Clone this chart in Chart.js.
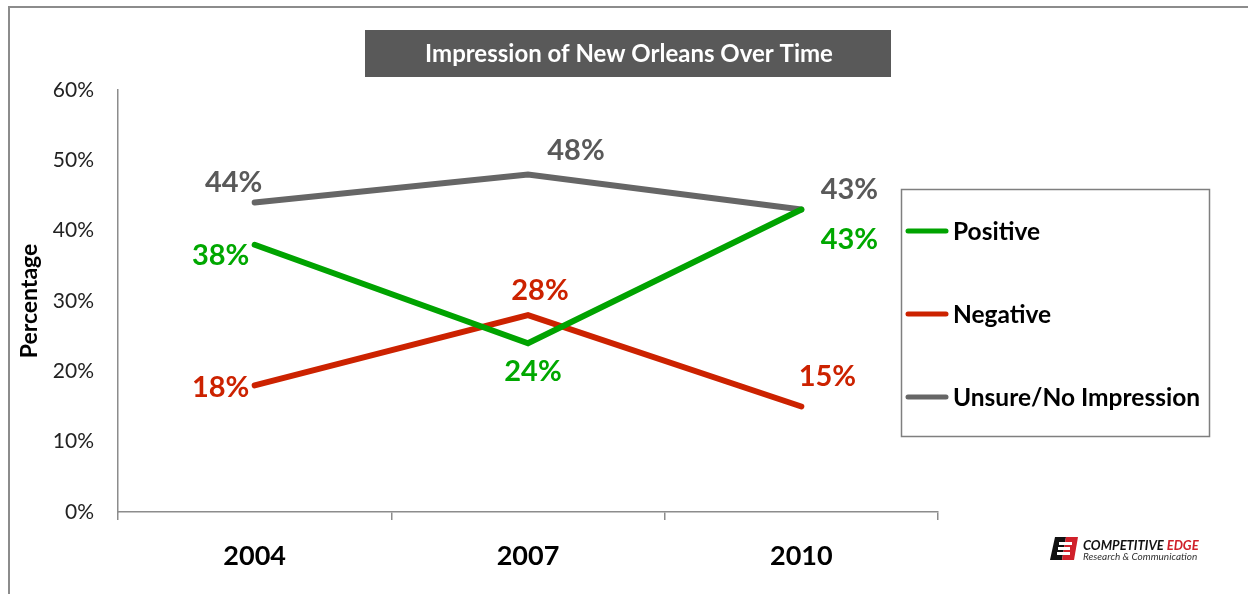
<!DOCTYPE html>
<html>
<head>
<meta charset="utf-8">
<script src="https://cdn.jsdelivr.net/npm/chart.js@4/dist/chart.umd.min.js"></script>
<style>
  html, body { margin: 0; padding: 0; background: #fff; }
  #wrap { position: relative; width: 1248px; height: 594px; }
  canvas { display: block; }
</style>
</head>
<body>
<div id="wrap"><canvas id="c" width="1248" height="594"></canvas></div>
<script>
const categories = ['2004', '2007', '2010'];
const positiveValues = [38, 24, 43];
const negativeValues = [18, 28, 15];
const unsureValues = [44, 48, 43];
const yTickValues = [0, 10, 20, 30, 40, 50, 60];
const seriesNames = ['Positive', 'Negative', 'Unsure/No Impression'];
const chartTitle = 'Impression of New Orleans Over Time';
const yAxisTitle = 'Percentage';

const FONT = 'Lato, "Open Sans", sans-serif';
const colors = { pos: '#00A300', neg: '#CC2200', uns: '#666666' };
const labelColors = { pos: '#00A800', neg: '#CC2200', uns: '#595959' };
// label offsets (dx, dy) from each point, per dataset
const labelOffsets = [
  [[-34, 11], [5, 28], [48, 30]],
  [[-34, 2], [12, -24], [26, -30]],
  [[-21, -20], [48, -24], [48, -20]]
];

const decorPlugin = {
  id: 'decor',
  beforeDraw(chart) {
    const ctx = chart.ctx;
    ctx.save();
    ctx.fillStyle = '#fff';
    ctx.fillRect(0, 0, chart.width, chart.height);
    ctx.strokeStyle = '#8c8c8c';
    ctx.lineWidth = 2;
    ctx.beginPath();
    ctx.moveTo(9, 594);
    ctx.lineTo(9, 7);
    ctx.lineTo(1248, 7);
    ctx.stroke();
    ctx.restore();
  },
  afterDraw(chart) {
    const ctx = chart.ctx;
    ctx.save();
    // title box
    ctx.fillStyle = '#595959';
    ctx.fillRect(365, 30, 526, 47);
    ctx.fillStyle = '#ffffff';
    ctx.font = 'bold 24px ' + FONT;
    ctx.textAlign = 'center';
    ctx.textBaseline = 'middle';
    ctx.fillText(chartTitle, 629, 54);

    // data labels
    chart.data.datasets.forEach((ds, di) => {
      const meta = chart.getDatasetMeta(di);
      meta.data.forEach((pt, i) => {
        const off = labelOffsets[di][i];
        ctx.fillStyle = ds.labelColor;
        ctx.font = 'bold 29px ' + FONT;
        ctx.textAlign = 'center';
        ctx.textBaseline = 'middle';
        ctx.fillText(ds.data[i] + '%', pt.x + off[0], pt.y + off[1]);
      });
    });

    // legend box
    ctx.fillStyle = '#fff';
    ctx.fillRect(901, 189, 309, 248);
    ctx.strokeStyle = '#7f7f7f';
    ctx.lineWidth = 1.5;
    ctx.strokeRect(901.5, 189.5, 308, 247);
    const ys = [231, 314, 397];
    chart.data.datasets.forEach((ds, di) => {
      ctx.strokeStyle = ds.borderColor;
      ctx.lineWidth = 5;
      ctx.lineCap = 'round';
      ctx.beginPath();
      ctx.moveTo(908, ys[di]);
      ctx.lineTo(946, ys[di]);
      ctx.stroke();
      ctx.fillStyle = '#000';
      ctx.font = 'bold 24.5px ' + FONT;
      ctx.textAlign = 'left';
      ctx.textBaseline = 'middle';
      ctx.fillText(ds.label, 953, ys[di] + 1);
    });

    // logo
    const lx = 1050, ly = 537;
    ctx.fillStyle = '#111';
    ctx.beginPath();
    ctx.moveTo(lx + 5, ly); ctx.lineTo(lx + 16, ly); ctx.lineTo(lx + 12, ly + 23); ctx.lineTo(lx, ly + 23); ctx.closePath();
    ctx.fill();
    ctx.fillStyle = '#d0202a';
    ctx.beginPath();
    ctx.moveTo(lx + 16, ly); ctx.lineTo(lx + 28, ly); ctx.lineTo(lx + 24, ly + 23); ctx.lineTo(lx + 12, ly + 23); ctx.closePath();
    ctx.fill();
    ctx.fillStyle = '#fff';
    ctx.fillRect(lx + 9, ly + 5, 13, 3);
    ctx.fillRect(lx + 8, ly + 10, 12, 3);
    ctx.fillRect(lx + 7, ly + 15, 13, 3);
    ctx.font = 'italic bold 13px ' + FONT;
    ctx.textAlign = 'left';
    ctx.textBaseline = 'alphabetic';
    ctx.fillStyle = '#111';
    ctx.fillText('COMPETITIVE ', 1083, 550);
    const w = ctx.measureText('COMPETITIVE ').width;
    ctx.fillStyle = '#d0202a';
    ctx.fillText('EDGE', 1083 + w, 550);
    ctx.font = 'italic 10px ' + FONT;
    ctx.fillStyle = '#333';
    ctx.fillText('Research & Communication', 1083, 560);
    ctx.restore();
  }
};

new Chart(document.getElementById('c'), {
  type: 'line',
  data: {
    labels: categories,
    datasets: [
      { label: seriesNames[0], data: positiveValues, borderColor: colors.pos, labelColor: labelColors.pos, order: 0 },
      { label: seriesNames[1], data: negativeValues, borderColor: colors.neg, labelColor: labelColors.neg, order: 1 },
      { label: seriesNames[2], data: unsureValues, borderColor: colors.uns, labelColor: labelColors.uns, order: 2 }
    ].map(d => Object.assign(d, {
      borderWidth: 6, pointRadius: 0, pointHoverRadius: 0, tension: 0,
      borderCapStyle: 'round', fill: false
    }))
  },
  options: {
    responsive: false,
    animation: false,
    events: [],
    layout: { padding: { left: 0, right: 310, top: 90, bottom: 0 } },
    plugins: { legend: { display: false }, title: { display: false }, tooltip: { enabled: false } },
    scales: {
      x: {
        offset: true,
        grid: { offset: true, drawOnChartArea: false, drawTicks: true, tickLength: 8, color: '#8c8c8c', lineWidth: 1.5 },
        border: { color: '#8c8c8c', width: 1.5 },
        ticks: { font: { family: FONT, size: 27, weight: 'bold' }, color: '#000', padding: 20 },
        afterFit(s) { s.height = 82; }
      },
      y: {
        min: 0, max: 60,
        afterBuildTicks(s) { s.ticks = yTickValues.map(v => ({ value: v })); },
        grid: { display: false, drawTicks: false },
        border: { color: '#8c8c8c', width: 1.5 },
        ticks: { font: { family: FONT, size: 21 }, color: '#222', padding: 24, callback: v => v + '%' },
        title: { display: true, text: yAxisTitle, font: { family: FONT, size: 23, weight: 'bold' }, color: '#000', padding: { top: 16, bottom: 0 } },
        afterFit(s) { s.width = 118; }
      }
    }
  },
  plugins: [decorPlugin]
});
</script>
</body>
</html>
